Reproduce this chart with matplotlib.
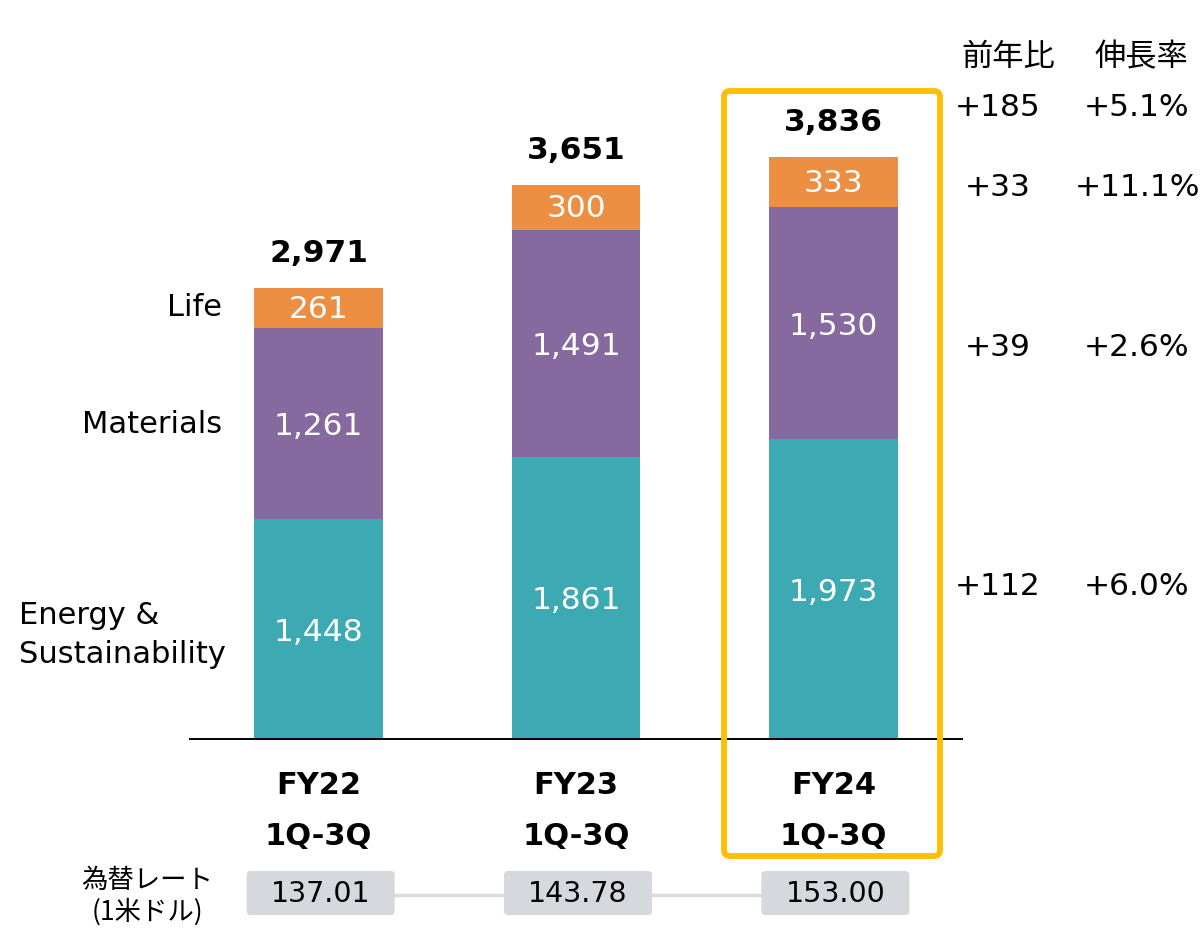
import matplotlib.pyplot as plt
from matplotlib import rcParams
from matplotlib.patches import FancyBboxPatch
from matplotlib.transforms import IdentityTransform, blended_transform_factory

rcParams['font.family'] = ['DejaVu Sans', 'Noto Sans CJK JP']

# ---- data ----
periods = ['FY22', 'FY23', 'FY24']
energy = [1448, 1861, 1973]
materials = [1261, 1491, 1530]
life = [261, 300, 333]
totals = ['2,971', '3,651', '3,836']
fx_rates = ['137.01', '143.78', '153.00']
yoy_diff = ['+185', '+33', '+39', '+112']
yoy_rate = ['+5.1%', '+11.1%', '+2.6%', '+6.0%']
seg_names = ['Life', 'Materials', 'Energy &\nSustainability']

c_energy = '#3DA9B3'
c_mat = '#866A9F'
c_life = '#EC8F42'
c_box = '#FFBE00'

W, H = 1203, 930
fig = plt.figure(figsize=(W / 100, H / 100), dpi=100)
fig.set_facecolor('white')


def fy(y_top):
    # pixel-from-top -> figure fraction
    return (H - y_top) / H


# main axes: baseline at y=739px, x from 190 to 962 px
ax = fig.add_axes([190 / W, fy(739), 772 / W, 739 / H])
ax.set_xlim(-0.5, 2.5)
ax.set_ylim(0, 739 / 0.1518)
ax.axis('off')

x = list(range(len(periods)))
bw = 0.5
ax.bar(x, energy, width=bw, color=c_energy, zorder=2)
ax.bar(x, materials, width=bw, bottom=energy, color=c_mat, zorder=2)
bottom3 = [e + m for e, m in zip(energy, materials)]
ax.bar(x, life, width=bw, bottom=bottom3, color=c_life, zorder=2)

# baseline
ax.plot([-0.5, 2.5], [0, 0], color='black', lw=1.4, clip_on=False, zorder=3)

# values inside bars
vfs = 22.5
for i in x:
    ax.text(i, energy[i] / 2 - 20, f'{energy[i]:,}', color='white', fontsize=vfs,
            ha='center', va='center', zorder=4)
    ax.text(i, energy[i] + materials[i] / 2 - 20, f'{materials[i]:,}', color='white',
            fontsize=vfs, ha='center', va='center', zorder=4)
    ax.text(i, bottom3[i] + life[i] / 2 - 10, f'{life[i]:,}', color='white',
            fontsize=vfs, ha='center', va='center', zorder=4)
    top = bottom3[i] + life[i]
    ax.text(i, top + 225, totals[i], color='black', fontsize=22.5, fontweight='bold',
            ha='center', va='center')

# category labels under the bars
bt = blended_transform_factory(ax.transData, fig.transFigure)
for i in x:
    ax.text(i, fy(785), periods[i], transform=bt, fontsize=22, fontweight='bold',
            ha='center', va='center')
    ax.text(i, fy(836), '1Q-3Q', transform=bt, fontsize=22, fontweight='bold',
            ha='center', va='center')

# segment names on the left
fig.text(222 / W, fy(307), seg_names[0], fontsize=22, ha='right', va='center')
fig.text(222 / W, fy(424), seg_names[1], fontsize=22, ha='right', va='center')
fig.text(19 / W, fy(635), seg_names[2], fontsize=22, ha='left', va='center',
         linespacing=1.4)

# highlight box around FY24
fig.patches.append(FancyBboxPatch((724, H - 856), 216, 765,
                                  boxstyle='round,pad=0,rounding_size=6',
                                  fill=False, edgecolor=c_box, linewidth=4.2,
                                  transform=IdentityTransform(), figure=fig))

# right-hand columns
fig.text(1008 / W, fy(57), '前年比', fontsize=22.5, ha='center', va='center',
         family=['Noto Sans CJK JP'])
fig.text(1141 / W, fy(57), '伸長率', fontsize=22.5, ha='center', va='center',
         family=['Noto Sans CJK JP'])
row_y = [108, 187, 347, 586]
for d, r, yy in zip(yoy_diff, yoy_rate, row_y):
    fig.text(998 / W, fy(yy), d, fontsize=22.5, ha='center', va='center')
    fig.text(1137 / W, fy(yy), r, fontsize=22.5, ha='center', va='center')

# exchange rate row
fig.text(147 / W, fy(880), '為替レート', fontsize=19, ha='center', va='center',
         family=['Noto Sans CJK JP'])
fig.text(147 / W, fy(912), '(1米ドル)', fontsize=19, ha='center', va='center',
         family=['Noto Sans CJK JP'])
fig.canvas.draw()
box_cx = [ax.transData.transform((i, 0))[0] + 2 for i in x]
fig.lines.append(plt.Line2D([box_cx[0], box_cx[-1]], [H - 895, H - 895],
                            color='#DCDCDC', lw=2.5, transform=IdentityTransform(),
                            figure=fig, zorder=1))
for cx, rate in zip(box_cx, fx_rates):
    fig.patches.append(FancyBboxPatch((cx - 74, H - 915), 148, 44,
                                      boxstyle='round,pad=0,rounding_size=4',
                                      facecolor='#D5D8DC', edgecolor='none',
                                      transform=IdentityTransform(), figure=fig,
                                      zorder=2))
    fig.text(cx / W, fy(894), rate, fontsize=20.5, ha='center', va='center', zorder=3)

plt.savefig('out.png', dpi=100, facecolor='white')
plt.close(fig)
